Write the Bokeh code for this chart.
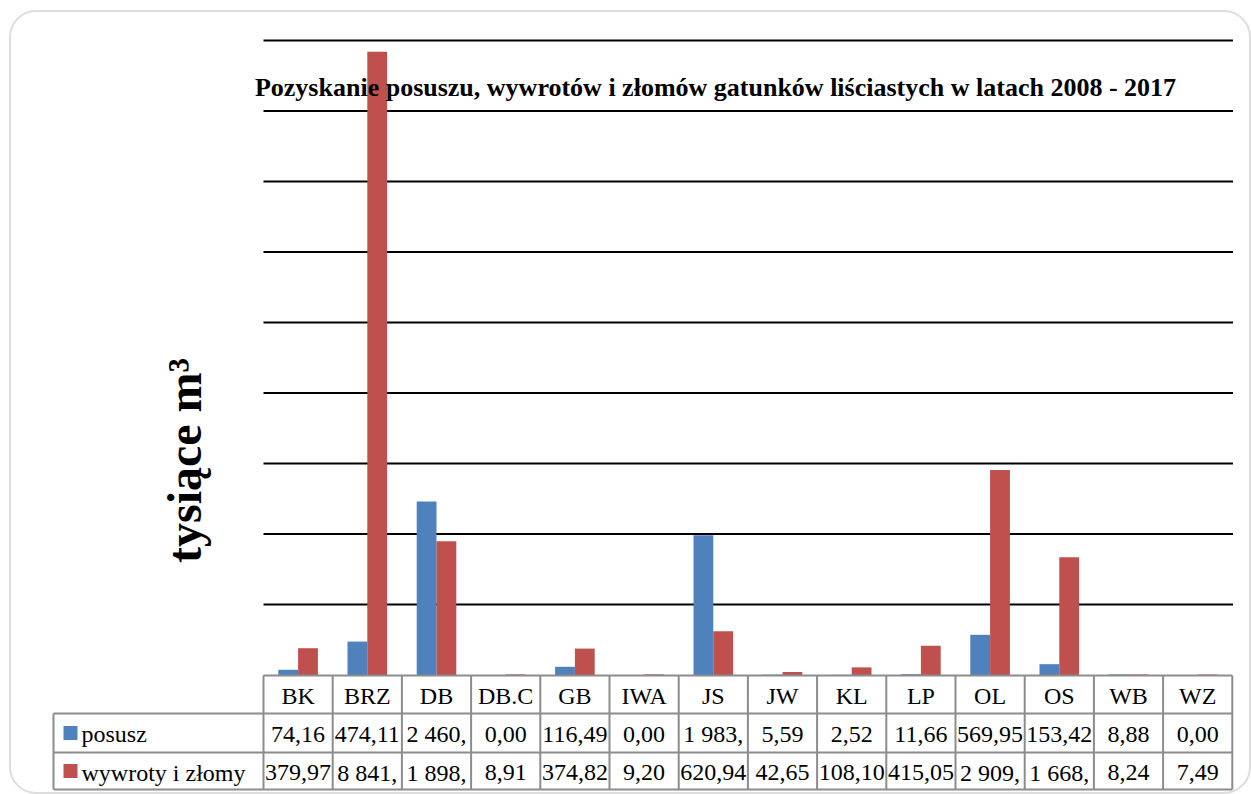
import numpy as np
from bokeh.plotting import figure
from bokeh.models import Range1d, BoxAnnotation, ColumnDataSource
from bokeh.core.properties import value
from bokeh.embed import file_html
from bokeh.resources import INLINE

# ---------------- data ----------------
categories = ["BK", "BRZ", "DB", "DB.C", "GB", "IWA", "JS", "JW", "KL", "LP", "OL", "OS", "WB", "WZ"]
posusz = [74.16, 474.11, 2460.5, 0.00, 116.49, 0.00, 1983.5, 5.59, 2.52, 11.66, 569.95, 153.42, 8.88, 0.00]
wywroty = [379.97, 8841.5, 1898.5, 8.91, 374.82, 9.20, 620.94, 42.65, 108.10, 415.05, 2909.5, 1668.5, 8.24, 7.49]
posusz_labels = ["74,16", "474,11", "2 460,", "0,00", "116,49", "0,00", "1 983,", "5,59", "2,52",
                 "11,66", "569,95", "153,42", "8,88", "0,00"]
wywroty_labels = ["379,97", "8 841,", "1 898,", "8,91", "374,82", "9,20", "620,94", "42,65",
                  "108,10", "415,05", "2 909,", "1 668,", "8,24", "7,49"]
series_names = ["posusz", "wywroty i złomy"]
gridlines = [1000, 2000, 3000, 4000, 5000, 6000, 7000, 8000, 9000]
title_text = "Pozyskanie posuszu, wywrotów i złomów gatunków liściastych w latach 2008 - 2017"
ylabel_text = "tysiące m³"

BLUE = "#4F81BD"
RED = "#C0504D"
TABLE_LINE = "#8c8c8c"
FONT = "Liberation Serif"

# ---------------- layout geometry (page pixels -> data) ----------------
W, H = 1251, 794
COL_W = 69.2          # px per category
X0 = 263.0            # page x of category 0 left edge
Y0 = 674.5            # page y of value 0
PX_PER_UNIT = 0.0705  # px per unit of value


def dx(sx):
    return (sx - X0) / COL_W


def dy(sy):
    return (Y0 - sy) / PX_PER_UNIT


p = figure(width=W, height=H, output_backend="svg", toolbar_location=None,
           x_range=Range1d(dx(0), dx(W)), y_range=Range1d(dy(H), dy(0)),
           x_axis_location=None, y_axis_location=None, min_border=0,
           outline_line_color=None, background_fill_color="white",
           border_fill_color="white")
p.grid.visible = False

n = len(categories)
centers = np.arange(n) + 0.5

# rounded outer border
p.add_layout(BoxAnnotation(left=dx(9.5), right=dx(1249.5), top=dy(10.5), bottom=dy(792.5),
                           fill_color=None, fill_alpha=0, line_color="#8f8f8f", line_width=2,
                           border_radius=26, level="underlay"))

# horizontal gridlines
p.segment(x0=[0] * len(gridlines), x1=[n + 0.01] * len(gridlines), y0=gridlines, y1=gridlines,
          line_color="black", line_width=2)

# bars
bw = 19.8 / COL_W
src = ColumnDataSource(dict(xp=centers - bw / 2, xw=centers + bw / 2, posusz=posusz, wywroty=wywroty))
p.vbar(x="xp", top="posusz", bottom=0, width=bw, source=src, fill_color=BLUE, line_color=None)
p.vbar(x="xw", top="wywroty", bottom=0, width=bw, source=src, fill_color=RED, line_color=None)

# title
p.text(x=[dx(715)], y=[dy(86.5)], text=[title_text], text_font=value(FONT), text_font_style="bold",
       text_font_size="26px", text_align="center", text_baseline="middle", text_color="black")

# y label
p.text(x=[dx(184)], y=[dy(460)], text=[ylabel_text], angle=np.pi / 2, text_font=value(FONT),
       text_font_style="bold", text_font_size="48px", text_align="center", text_baseline="middle",
       text_color="black")

# ---------------- data table ----------------
row_top, row1, row2, row_bot = 675, 713, 752, 789
left_edge = 53
# horizontal table lines
p.segment(x0=[0, dx(left_edge), dx(left_edge), dx(left_edge)], x1=[n] * 4,
          y0=[dy(row_top), dy(row1), dy(row2), dy(row_bot)],
          y1=[dy(row_top), dy(row1), dy(row2), dy(row_bot)],
          line_color=TABLE_LINE, line_width=2)
# vertical lines
ks = list(range(n + 1))
p.segment(x0=ks, x1=ks, y0=[dy(row_top)] * len(ks), y1=[dy(row_bot)] * len(ks),
          line_color=TABLE_LINE, line_width=2)
p.segment(x0=[dx(left_edge)], x1=[dx(left_edge)], y0=[dy(row1)], y1=[dy(row_bot)],
          line_color=TABLE_LINE, line_width=2)

hdr_y = dy((row_top + row1) / 2 + 1)
r1_y = dy((row1 + row2) / 2 + 1)
r2_y = dy((row2 + row_bot) / 2 + 1.5)

# header labels
p.text(x=centers, y=[hdr_y] * n, text=categories, text_font=value(FONT),
       text_font_size="24px", text_align="center", text_baseline="middle", text_color="black")
# value rows
p.text(x=centers, y=[r1_y] * n, text=posusz_labels, text_font=value(FONT),
       text_font_size="24px", text_align="center", text_baseline="middle", text_color="black")
p.text(x=centers, y=[r2_y] * n, text=wywroty_labels, text_font=value(FONT),
       text_font_size="24px", text_align="center", text_baseline="middle", text_color="black")

# legend keys in row headers
p.scatter(x=[dx(70)] * 2, y=[dy((row1 + row2) / 2), dy((row2 + row_bot) / 2)], marker="square",
          size=14, fill_color=[BLUE, RED], line_color=None)
p.text(x=[dx(81)] * 2, y=[r1_y, r2_y], text=series_names,
       text_font=value(FONT), text_font_size="24px", text_align="left", text_baseline="middle",
       text_color="black")

open("out.html", "w").write(file_html(p, INLINE))
